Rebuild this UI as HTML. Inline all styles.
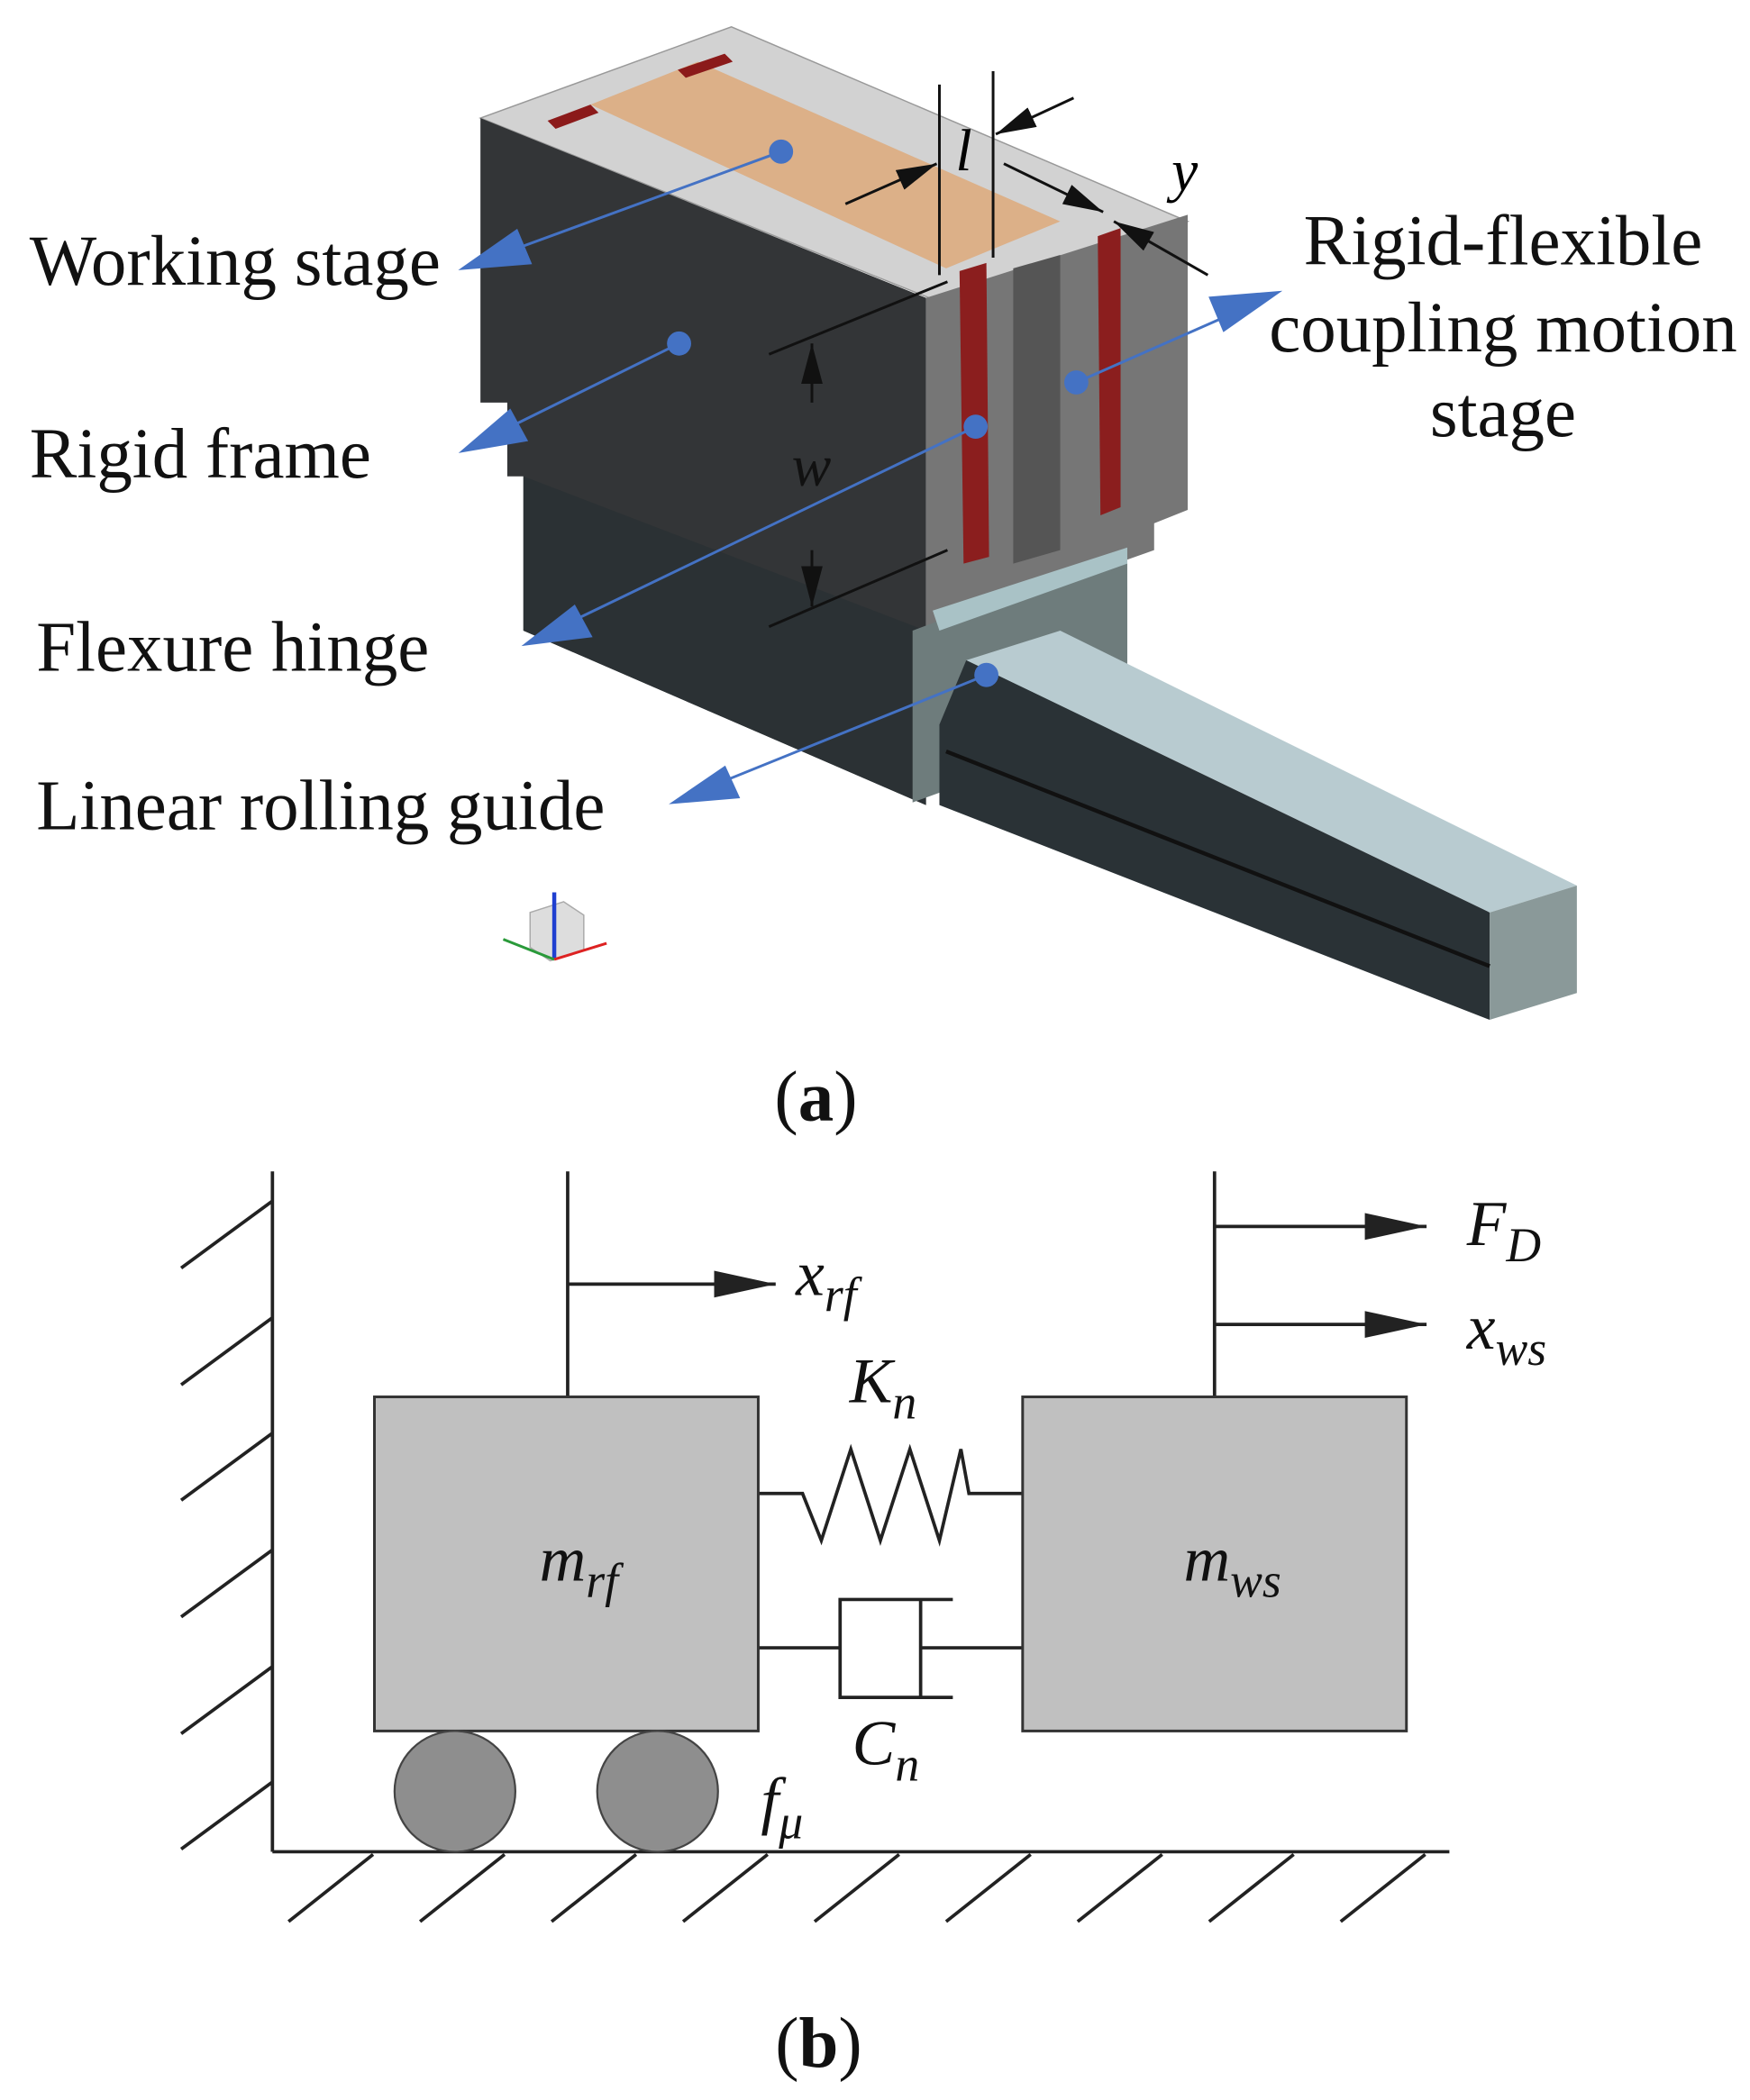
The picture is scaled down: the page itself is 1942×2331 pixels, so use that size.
<!DOCTYPE html>
<html><head><meta charset="utf-8"><style>html,body{margin:0;padding:0;background:#fff}svg{display:block}</style></head>
<body>
<svg width="1942" height="2331" viewBox="0 0 1304 1565" preserveAspectRatio="none" xmlns="http://www.w3.org/2000/svg" font-family="Liberation Serif, serif">
<defs>
<marker id="ka" markerWidth="46" markerHeight="20" refX="46" refY="10" orient="auto" markerUnits="userSpaceOnUse"><path d="M0,0L46,10L0,20z" fill="#222"/></marker>
<marker id="ks" markerWidth="30" markerHeight="16" refX="30" refY="8" orient="auto" markerUnits="userSpaceOnUse"><path d="M0,0L30,8L0,16z" fill="#111"/></marker>
</defs>
<polygon points="358,88 545,20 885,165 700,225" fill="#d2d2d2" stroke="#999"/>
<polygon points="358,88 690,222 690,600 390,470 390,355 378,355 378,300 358,300" fill="#333537"/>
<polygon points="390,355 690,470 690,600 390,470" fill="#2b3134"/>
<polygon points="690,222 885,160 885,380 860,390 860,410 690,470" fill="#767676"/>
<polygon points="680,470 840,410 840,540 680,598" fill="#6e7c7c"/>
<polygon points="695,455 840,408 840,420 700,470" fill="#a9c2c6"/>
<polygon points="440,78 520,46 790,165 705,200" fill="#dcb088"/>
<polygon points="408,90 440,78 446,84 414,96" fill="#8b1a1a"/>
<polygon points="505,52 540,40 546,46 511,58" fill="#8b1a1a"/>
<polygon points="715,202 735,196 737,415 718,420" fill="#8b1e1e"/>
<polygon points="818,176 835,170 835,378 820,384" fill="#8b1e1e"/>
<polygon points="755,200 790,190 790,410 755,420" fill="#555"/>
<polygon points="720,492 790,470 1175,660 1110,680" fill="#b8cbd0"/>
<polygon points="700,540 720,492 1110,680 1110,760 700,600" fill="#2a3236"/>
<polygon points="1110,680 1175,660 1175,740 1110,760" fill="#8a9999"/>
<line x1="705" y1="560" x2="1110" y2="720" stroke="#111" stroke-width="3"/>
<polygon points="395,680 420,672 435,682 435,708 410,716 395,706" fill="#ddd" stroke="#aaa"/>
<line x1="413" y1="715" x2="413" y2="665" stroke="#1f3fd0" stroke-width="3"/>
<line x1="413" y1="715" x2="375" y2="700" stroke="#2a9a3a" stroke-width="2"/>
<line x1="413" y1="715" x2="452" y2="703" stroke="#d22" stroke-width="2"/>
<g stroke="#111" stroke-width="2" fill="none">
<line x1="700" y1="63" x2="700" y2="205"/>
<line x1="740" y1="53" x2="740" y2="192"/>
<line x1="800" y1="73" x2="742" y2="100" marker-end="url(#ks)"/>
<line x1="630" y1="152" x2="698" y2="122" marker-end="url(#ks)"/>
<line x1="748" y1="122" x2="822" y2="158" marker-end="url(#ks)"/>
<line x1="900" y1="205" x2="830" y2="165" marker-end="url(#ks)"/>
<line x1="573" y1="264" x2="706" y2="210"/>
<line x1="573" y1="467" x2="706" y2="410"/>
<line x1="605" y1="300" x2="605" y2="256" marker-end="url(#ks)"/>
<line x1="605" y1="410" x2="605" y2="452" marker-end="url(#ks)"/>
</g>
<text x="712" y="127" font-size="44" font-style="italic">l</text>
<text x="873" y="142" font-size="44" font-style="italic">y</text>
<text x="590" y="362" font-size="44" font-style="italic" fill="#111">w</text>
<g stroke="#4472c4" stroke-width="2">
<line x1="582" y1="113" x2="350" y2="198"/><polygon points="345,200 385,172 395,196" fill="#4472c4"/>
<line x1="506" y1="256" x2="350" y2="333"/><polygon points="345,336 380,306 392,328" fill="#4472c4"/>
<line x1="727" y1="318" x2="395" y2="478"/><polygon points="392,480 428,452 440,474" fill="#4472c4"/>
<line x1="735" y1="503" x2="505" y2="596"/><polygon points="502,598 540,572 550,594" fill="#4472c4"/>
<line x1="802" y1="285" x2="945" y2="222"/><polygon points="952,218 912,246 902,222" fill="#4472c4"/>
</g>
<g fill="#4472c4"><circle cx="582" cy="113" r="9"/><circle cx="506" cy="256" r="9"/><circle cx="727" cy="318" r="9"/><circle cx="735" cy="503" r="9"/><circle cx="802" cy="285" r="9"/></g>
<g font-size="53" fill="#111">
<text x="22" y="212">Working stage</text>
<text x="22" y="356">Rigid frame</text>
<text x="27" y="500">Flexure hinge</text>
<text x="27" y="618">Linear rolling guide</text>
<text x="1120" y="197" text-anchor="middle">Rigid-flexible</text>
<text x="1120" y="262" text-anchor="middle">coupling motion</text>
<text x="1120" y="325" text-anchor="middle">stage</text>
<text x="608" y="835" text-anchor="middle">(<tspan font-weight="bold">a</tspan>)</text>
<text x="610" y="1540" text-anchor="middle">(<tspan font-weight="bold">b</tspan>)</text>
</g>
<g stroke="#222" stroke-width="2.5" fill="none">
<line x1="203" y1="873" x2="203" y2="1380"/>
<line x1="203" y1="1380" x2="1080" y2="1380"/>
<line x1="135" y1="945" x2="203" y2="895"/><line x1="135" y1="1032" x2="203" y2="982"/><line x1="135" y1="1118" x2="203" y2="1068"/><line x1="135" y1="1205" x2="203" y2="1155"/><line x1="135" y1="1292" x2="203" y2="1242"/><line x1="135" y1="1378" x2="203" y2="1328"/>
<line x1="215" y1="1432" x2="278" y2="1382"/><line x1="313" y1="1432" x2="376" y2="1382"/><line x1="411" y1="1432" x2="474" y2="1382"/><line x1="509" y1="1432" x2="572" y2="1382"/><line x1="607" y1="1432" x2="670" y2="1382"/><line x1="705" y1="1432" x2="768" y2="1382"/><line x1="803" y1="1432" x2="866" y2="1382"/><line x1="901" y1="1432" x2="964" y2="1382"/><line x1="999" y1="1432" x2="1062" y2="1382"/>
<line x1="423" y1="873" x2="423" y2="1041"/>
<line x1="423" y1="957" x2="578" y2="957" marker-end="url(#ka)"/>
<line x1="905" y1="873" x2="905" y2="1041"/>
<line x1="905" y1="914" x2="1063" y2="914" marker-end="url(#ka)"/>
<line x1="905" y1="987" x2="1063" y2="987" marker-end="url(#ka)"/>
<polyline points="565,1113 598,1113 612,1148 634,1080 656,1148 678,1080 700,1148 716,1080 722,1113 762,1113"/>
<line x1="565" y1="1228" x2="626" y2="1228"/>
<polyline points="710,1192 626,1192 626,1265 710,1265"/>
<line x1="686" y1="1192" x2="686" y2="1265"/>
<line x1="686" y1="1228" x2="762" y2="1228"/>
</g>
<rect x="279" y="1041" width="286" height="249" fill="#c0c0c0" stroke="#333" stroke-width="2"/>
<rect x="762" y="1041" width="286" height="249" fill="#c0c0c0" stroke="#333" stroke-width="2"/>
<circle cx="339" cy="1335" r="45" fill="#8e8e8e" stroke="#444" stroke-width="1.5"/>
<circle cx="490" cy="1335" r="45" fill="#8e8e8e" stroke="#444" stroke-width="1.5"/>
<g font-size="48" font-style="italic" fill="#111">
<text x="593" y="965">x<tspan font-size="36" dy="12">rf</tspan></text>
<text x="1093" y="928">F<tspan font-size="36" dy="12">D</tspan></text>
<text x="1093" y="1005">x<tspan font-size="36" dy="12">ws</tspan></text>
<text x="633" y="1045">K<tspan font-size="36" dy="12">n</tspan></text>
<text x="635" y="1315">C<tspan font-size="36" dy="12">n</tspan></text>
<text x="567" y="1358">f<tspan font-size="36" dy="12">μ</tspan></text>
<text x="402" y="1178">m<tspan font-size="36" dy="12">rf</tspan></text>
<text x="882" y="1178">m<tspan font-size="36" dy="12">ws</tspan></text>
</g>
</svg>
</body></html>
